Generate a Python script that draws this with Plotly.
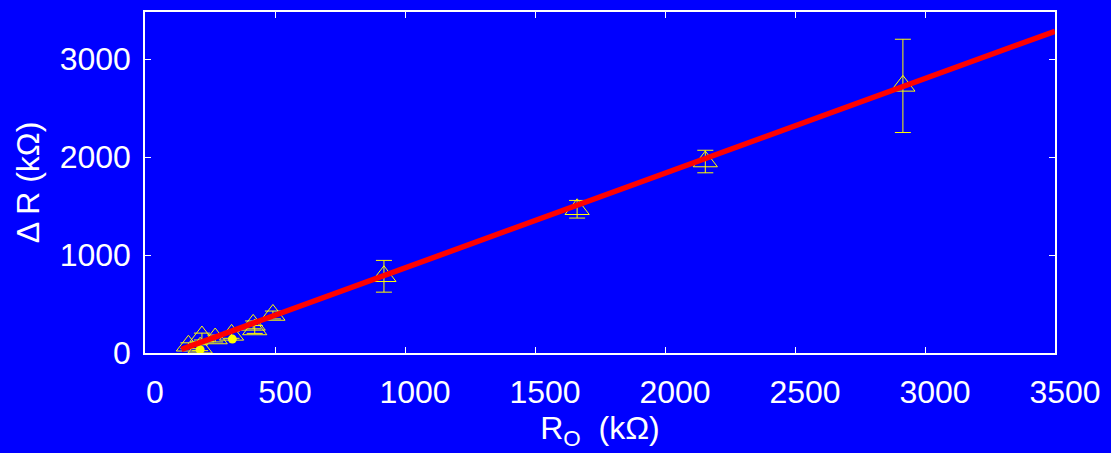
import plotly.graph_objects as go

# Triangle series: R0 (kOhm), Delta R (kOhm), error
tri_r0 = [167, 212, 219, 270, 333, 416, 422, 492, 919, 1662, 2155, 2915]
tri_dr = [74, 54, 168, 148, 185, 287, 240, 388, 783, 1467, 1954, 2726]
tri_err = [30, 30, 35, 35, 35, 40, 40, 40, 162, 90, 115, 476]

# Filled circle series
dot_r0 = [212, 336]
dot_dr = [34, 142]

# Linear fit line
fit_r0 = [140, 3500]
fit_dr = [37, 3284]

YELLOW = "#FFFF00"
FONT = "Liberation Sans, Arial, Helvetica, sans-serif"

fig = go.Figure()

fig.add_trace(go.Scatter(
    x=tri_r0, y=tri_dr, mode="markers",
    marker=dict(symbol="triangle-up-open", size=21, color=YELLOW,
                line=dict(color=YELLOW, width=1)),
    error_y=dict(type="data", array=tri_err, visible=True,
                 color=YELLOW, thickness=1, width=8),
    showlegend=False,
))

fig.add_trace(go.Scatter(
    x=dot_r0, y=dot_dr, mode="markers",
    marker=dict(symbol="circle", size=9, color=YELLOW),
    showlegend=False,
))

fig.add_trace(go.Scatter(
    x=fit_r0, y=fit_dr, mode="lines",
    line=dict(color="#FF0000", width=5.5),
    showlegend=False,
))

axis_common = dict(
    showgrid=False, zeroline=False,
    showline=True, linecolor="white", linewidth=1.5, mirror="ticks",
    ticks="inside", ticklen=6, tickwidth=1, tickcolor="white",
    tickfont=dict(family=FONT, size=32, color="white"),
)

fig.update_layout(
    width=1111, height=453,
    paper_bgcolor="#0000FF", plot_bgcolor="#0000FF",
    margin=dict(l=145, r=51, t=10, b=100),
    font=dict(family=FONT, color="white"),
    xaxis=dict(
        range=[0, 3500], tickvals=[0, 500, 1000, 1500, 2000, 2500, 3000, 3500],
        ticklabelshift=10, ticklabelstandoff=10,
        title=dict(text="R<sub>O</sub>  (kΩ)", font=dict(family=FONT, size=32, color="white"),
                   standoff=3),
        **axis_common,
    ),
    yaxis=dict(
        range=[0, 3480], tickvals=[0, 1000, 2000, 3000],
        ticklabelstandoff=6,
        title=dict(text="Δ R (kΩ)", font=dict(family=FONT, size=32, color="white"),
                   standoff=10),
        **axis_common,
    ),
)

fig.write_html("out.html")
